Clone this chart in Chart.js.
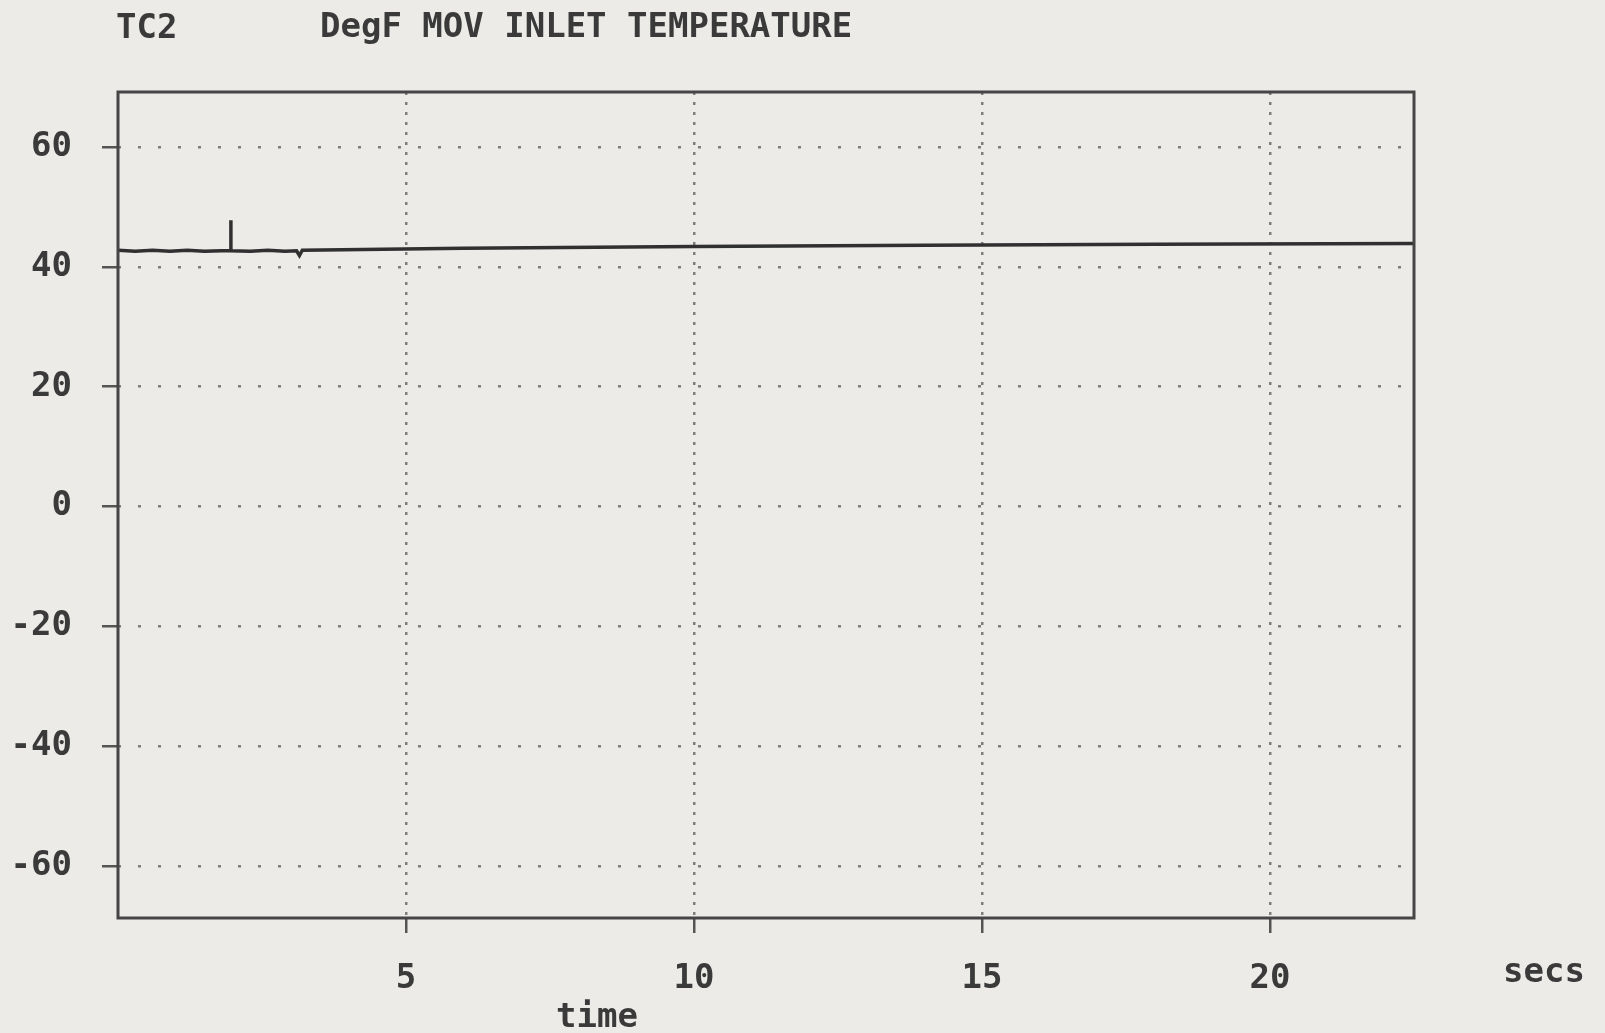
<!DOCTYPE html>
<html>
<head>
<meta charset="utf-8">
<script src="https://cdn.jsdelivr.net/npm/chart.js@4.4.1/dist/chart.umd.min.js"></script>
<style>
  html, body { margin: 0; padding: 0; background: #ecebe8; }
  #wrap { position: relative; width: 1605px; height: 1033px; }
  canvas { display: block; }
</style>
</head>
<body>
<div id="wrap"><canvas id="c" width="1605" height="1033"></canvas></div>
<script>
// ---- data ----
const timeSecs = [0, 0.3, 0.6, 0.9, 1.2, 1.5, 1.8, 1.96, 1.96, 1.96, 2.3, 2.6, 2.9, 3.1, 3.15, 3.2, 6, 10, 14, 18, 22.5];
const tempDegF = [42.8, 42.6, 42.8, 42.6, 42.8, 42.6, 42.7, 42.7, 47.8, 42.7, 42.6, 42.8, 42.6, 42.7, 41.9, 42.8, 43.1, 43.4, 43.6, 43.8, 43.9];
const xTickValues = [5, 10, 15, 20];
const yTickValues = [-60, -40, -20, 0, 20, 40, 60];
const titleLeft = "TC2";
const titleMain = "DegF MOV INLET TEMPERATURE";
const xUnitLabel = "secs";
const xAxisLabel = "time";

const FONT = '"DejaVu Sans Mono", "Liberation Mono", monospace';
const TEXT = '#3a3a3a';

const framePlugin = {
  id: 'frameAndText',
  afterDraw(chart) {
    const {ctx, chartArea: a} = chart;
    ctx.save();
    ctx.strokeStyle = '#454545';
    ctx.lineWidth = 3;
    ctx.strokeRect(a.left, a.top, a.right - a.left, a.bottom - a.top);
    ctx.fillStyle = TEXT;
    ctx.font = 'bold 34px ' + FONT;
    ctx.textBaseline = 'middle';
    ctx.textAlign = 'left';
    ctx.fillText(titleLeft, 116, 29);
    ctx.fillText(titleMain, 320, 28);
    ctx.fillText(xUnitLabel, 1503, 973);
    ctx.textAlign = 'center';
    ctx.fillText(xAxisLabel, 597, 1018);
    ctx.restore();
  }
};

new Chart(document.getElementById('c'), {
  type: 'line',
  data: {
    datasets: [{
      data: timeSecs.map((t, i) => ({x: t, y: tempDegF[i]})),
      borderColor: '#303030',
      borderWidth: 3.5,
      pointRadius: 0,
      tension: 0,
      fill: false
    }]
  },
  options: {
    responsive: false,
    animation: false,
    events: [],
    layout: { padding: { top: 92, right: 191, left: 0, bottom: 0 } },
    plugins: { legend: { display: false }, tooltip: { enabled: false }, title: { display: false } },
    scales: {
      x: {
        type: 'linear',
        min: 0, max: 22.5,
        afterBuildTicks(scale) { scale.ticks = xTickValues.map(v => ({value: v})); },
        afterFit(scale) { scale.height = 115; },
        border: { display: false, dash: [3, 7] },
        grid: {
          color: '#7e7e7e',
          lineWidth: 2.5,
          tickLength: 15,
          tickColor: '#555',
          tickWidth: 2.5,
          tickBorderDash: []
        },
        ticks: {
          color: TEXT,
          padding: 26,
          maxRotation: 0,
          font: { family: FONT, size: 34, weight: 'bold' },
          callback: v => String(v)
        }
      },
      y: {
        min: -68.7, max: 69.2,
        afterBuildTicks(scale) { scale.ticks = yTickValues.map(v => ({value: v})); },
        afterFit(scale) { scale.width = 118; },
        border: { display: false, dash: [3, 17] },
        grid: {
          color: '#7e7e7e',
          lineWidth: 2.5,
          tickLength: 16,
          tickColor: '#555',
          tickWidth: 2.5,
          tickBorderDash: []
        },
        ticks: {
          color: TEXT,
          padding: 30,
          font: { family: FONT, size: 34, weight: 'bold' },
          callback: v => String(v)
        }
      }
    }
  },
  plugins: [framePlugin]
});
</script>
</body>
</html>
